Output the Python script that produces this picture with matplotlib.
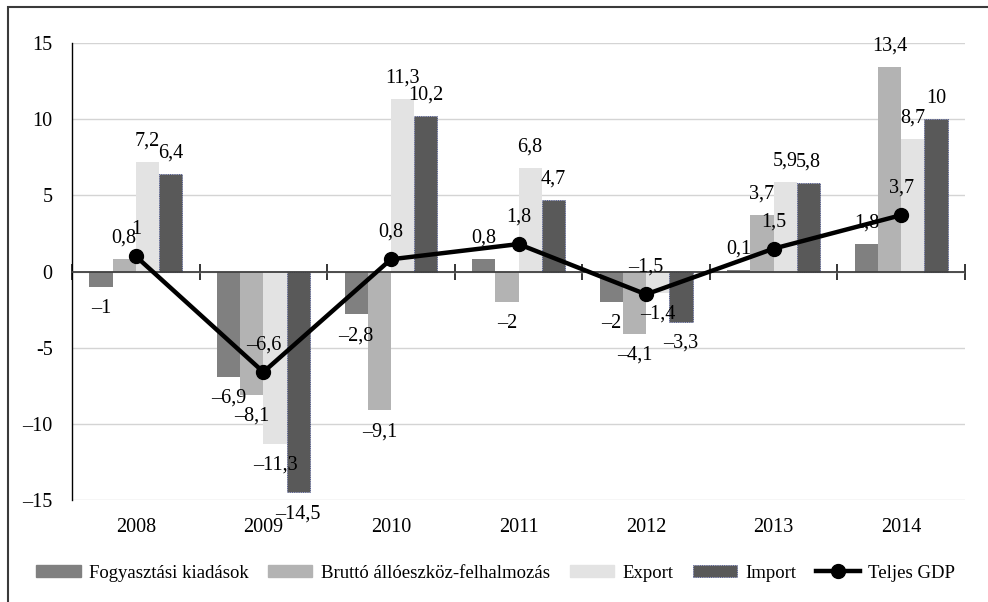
import numpy as np
import matplotlib
matplotlib.use("Agg")
import matplotlib.pyplot as plt
from matplotlib.patches import Rectangle
from matplotlib.lines import Line2D

plt.rcParams['font.family'] = ['Liberation Serif', 'DejaVu Serif']

# data (annual change, %)
years = ["2008", "2009", "2010", "2011", "2012", "2013", "2014"]
fogyasztas = [-1, -6.9, -2.8, 0.8, -2, 0.1, 1.8]
brutto = [0.8, -8.1, -9.1, -2, -4.1, 3.7, 13.4]
export = [7.2, -11.3, 11.3, 6.8, -1.4, 5.9, 8.7]
importv = [6.4, -14.5, 10.2, 4.7, -3.3, 5.8, 10]
gdp = [1, -6.6, 0.8, 1.8, -1.5, 1.5, 3.7]

series_names = ["Fogyasztási kiadások", "Bruttó állóeszköz-felhalmozás", "Export", "Import"]
colors = ["#808080", "#b3b3b3", "#e3e3e3", "#595959"]
ytick_vals = [-15, -10, -5, 0, 5, 10, 15]
ytick_labels = ["–15", "–10", "-5", "0", "5", "10", "15"]

FS = 14.5


def fmt(v):
    s = f"{abs(v):g}".replace(".", ",")
    return ("–" + s) if v < 0 else s


fig = plt.figure(figsize=(9.88, 6.02), dpi=100)
ax = fig.add_axes([0.0729, 0.1694, 0.9038, 0.7592])

x = np.arange(len(years))
w = 0.182
allbars = [fogyasztas, brutto, export, importv]
for i, (vals, col) in enumerate(zip(allbars, colors)):
    pos = x + (i - 1.5) * w
    if i == 3:
        ax.bar(pos, vals, w, color=col, edgecolor="#34418f", linewidth=0.6,
               linestyle=":", zorder=2)
    else:
        ax.bar(pos, vals, w, color=col, zorder=2)
    for px, v in zip(pos, vals):
        ax.annotate(fmt(v), (px, v), xytext=(0, 15 if v >= 0 else -15.5),
                    textcoords="offset points", ha="center", va="center",
                    fontsize=FS, zorder=5)

ax.plot(x, gdp, color="black", lw=3.2, marker="o", markersize=10, zorder=4)
for px, v in zip(x, gdp):
    ax.annotate(fmt(v), (px, v), xytext=(0, 19.5), textcoords="offset points",
                ha="center", va="center", fontsize=FS, zorder=5)

ax.set_ylim(-15, 15)
ax.set_xlim(-0.5, len(years) - 0.5)
ax.set_yticks(ytick_vals, labels=ytick_labels)
ax.tick_params(axis="y", length=0, pad=14, labelsize=FS)
ax.yaxis.grid(True, color="#d4d4d4", lw=1)
ax.set_axisbelow(True)

for s in ["top", "right"]:
    ax.spines[s].set_visible(False)
ax.spines["left"].set_color("black")
ax.spines["left"].set_linewidth(1.0)
ax.spines["bottom"].set_position(("data", 0))
ax.spines["bottom"].set_color("#404040")
ax.spines["bottom"].set_linewidth(1.3)
ax.spines["bottom"].set_zorder(3)
ax.set_xticks(np.arange(-0.5, len(years), 1))
ax.tick_params(axis="x", direction="inout", length=11, width=1.1,
               color="black", labelbottom=False)

sec = ax.secondary_xaxis(0)
sec.set_xticks(x, labels=years)
sec.tick_params(length=0, pad=13, labelsize=FS)
sec.spines["bottom"].set_visible(False)

handles = [Rectangle((0, 0), 1, 1, color=c) for c in colors[:3]]
handles.append(Rectangle((0, 0), 1, 1, facecolor=colors[3], edgecolor="#34418f",
                         linestyle=":", linewidth=0.6))
handles.append(Line2D([], [], color="black", lw=3.2, marker="o", markersize=10))
fig.legend(handles, series_names + ["Teljes GDP"], loc="center",
           bbox_to_anchor=(0.502, 0.048), ncol=5, frameon=False, fontsize=13.5,
           handlelength=2.35, handleheight=0.6, handletextpad=0.45,
           columnspacing=1.05)

fig.add_artist(Rectangle((8 / 988, -0.2), 1.2, 0.2 + 1 - 7 / 602,
                         transform=fig.transFigure, fill=False,
                         edgecolor="#3a3a3a", lw=1.5))

fig.savefig("out.png", dpi=100)
